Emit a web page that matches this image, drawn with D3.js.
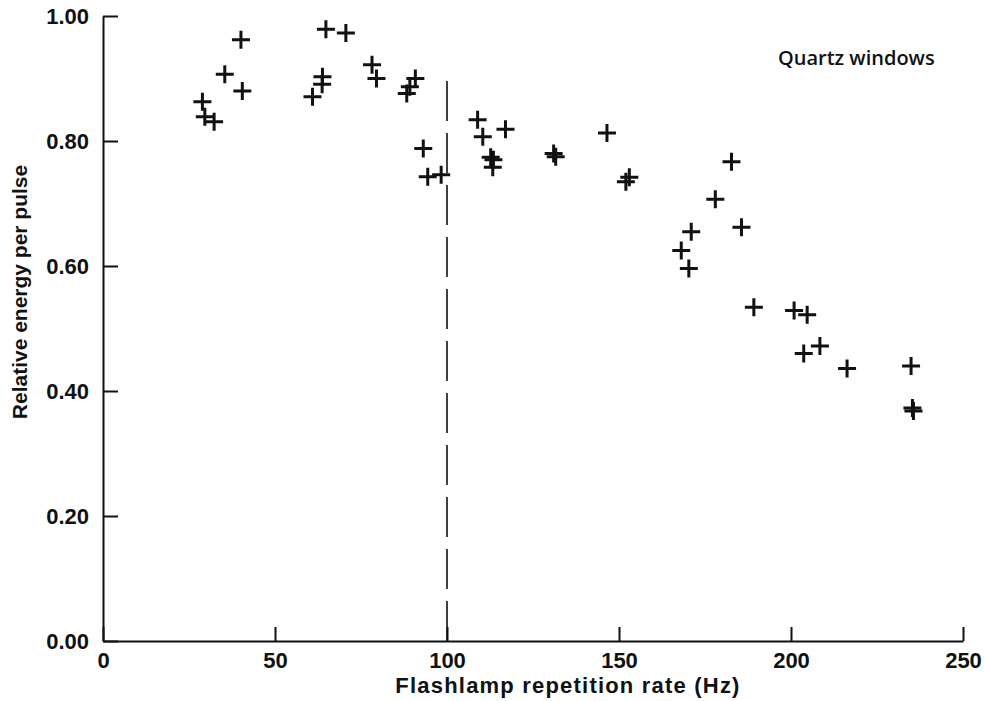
<!DOCTYPE html>
<html>
<head>
<meta charset="utf-8">
<script src="https://cdn.jsdelivr.net/npm/d3@7"></script>
<style>
  body { margin: 0; background: #fff; }
  .axis text { font-family: "Liberation Sans", Arial, sans-serif; font-weight: bold; font-size: 22px; fill: #111; }
  .axis path, .axis line { stroke: #111; stroke-width: 2; }
  .label { font-family: "Liberation Sans", Arial, sans-serif; font-weight: bold; fill: #111; }
</style>
</head>
<body>
<div id="chart"></div>
<script>
(function () {
  "use strict";

  // flashlamp repetition rate (Hz)
  const rate = [
    28.9, 29.6, 32.3, 35.4, 40.1, 40.5, 60.9, 63.7, 63.8, 64.8,
    70.6, 78.2, 79.5, 88.3, 89.2, 90.8, 93.1, 94.4, 98.3, 108.9,
    110.4, 117.0, 112.7, 113.5, 113.3, 131.0, 131.6, 146.5, 152.0, 153.0,
    168.1, 170.3, 171.0, 178.0, 182.7, 185.6, 189.2, 200.9, 204.7, 203.7,
    208.4, 216.3, 234.9, 235.3, 235.6
  ];
  // relative energy per pulse
  const energy = [
    0.863, 0.839, 0.831, 0.907, 0.962, 0.880, 0.871, 0.891, 0.903, 0.979,
    0.973, 0.922, 0.900, 0.876, 0.887, 0.900, 0.788, 0.743, 0.746, 0.834,
    0.807, 0.819, 0.774, 0.770, 0.758, 0.780, 0.775, 0.813, 0.735, 0.742,
    0.625, 0.596, 0.655, 0.707, 0.767, 0.662, 0.534, 0.529, 0.522, 0.460,
    0.472, 0.436, 0.440, 0.373, 0.368
  ];

  const xTicks = [0, 50, 100, 150, 200, 250];
  const yTicks = [0, 0.2, 0.4, 0.6, 0.8, 1.0];

  // dashed marker at 100 Hz
  const markerRate = 100;
  const markerTop = 0.91;

  const width = 984;
  const height = 701;

  const svg = d3.select("#chart")
    .append("svg")
    .attr("width", width)
    .attr("height", height);

  const x = d3.scaleLinear().domain([0, 250]).range([103, 963]);
  const y = d3.scaleLinear().domain([0, 1]).range([641, 16]);

  // x axis, ticks pointing up
  svg.append("g")
    .attr("class", "axis")
    .attr("transform", `translate(0,${y(0)})`)
    .call(d3.axisBottom(x).tickValues(xTicks).tickFormat(d3.format("d"))
      .tickSizeInner(-14).tickSizeOuter(0).tickPadding(11));

  // y axis, ticks pointing right
  svg.append("g")
    .attr("class", "axis")
    .attr("transform", `translate(${x(0)},0)`)
    .call(d3.axisLeft(y).tickValues(yTicks).tickFormat(d3.format(".2f"))
      .tickSizeInner(-15).tickSizeOuter(0).tickPadding(14));

  // dashed vertical line
  svg.append("line")
    .attr("x1", x(markerRate)).attr("x2", x(markerRate))
    .attr("y1", y(0)).attr("y2", y(markerTop))
    .attr("stroke", "#111")
    .attr("stroke-width", 1.6)
    .attr("stroke-dasharray", "40,12");

  // data points as plus signs
  const pts = rate.map((r, i) => ({ r: r, e: energy[i] }));
  svg.append("g")
    .selectAll("path")
    .data(pts)
    .join("path")
    .attr("transform", (d) => `translate(${x(d.r)},${y(d.e)})`)
    .attr("d", "M-9,0H9M0,-9V9")
    .attr("stroke", "#111")
    .attr("stroke-width", 3)
    .attr("fill", "none");

  // axis titles
  svg.append("text")
    .attr("class", "label")
    .attr("x", 568)
    .attr("y", 685)
    .attr("dy", "0.35em")
    .attr("text-anchor", "middle")
    .style("font-size", "22px")
    .style("letter-spacing", "1.2px")
    .text("Flashlamp repetition rate (Hz)");

  svg.append("text")
    .attr("class", "label")
    .attr("transform", "translate(20,292) rotate(-90)")
    .attr("dy", "0.35em")
    .attr("text-anchor", "middle")
    .style("font-size", "21px")
    .text("Relative energy per pulse");

  svg.append("text")
    .attr("x", 778)
    .attr("y", 58)
    .attr("dy", "0.35em")
    .style("font-family", "'Open Sans', sans-serif")
    .style("font-weight", 600)
    .style("font-size", "20px")
    .style("fill", "#111")
    .text("Quartz windows");
})();
</script>
</body>
</html>
